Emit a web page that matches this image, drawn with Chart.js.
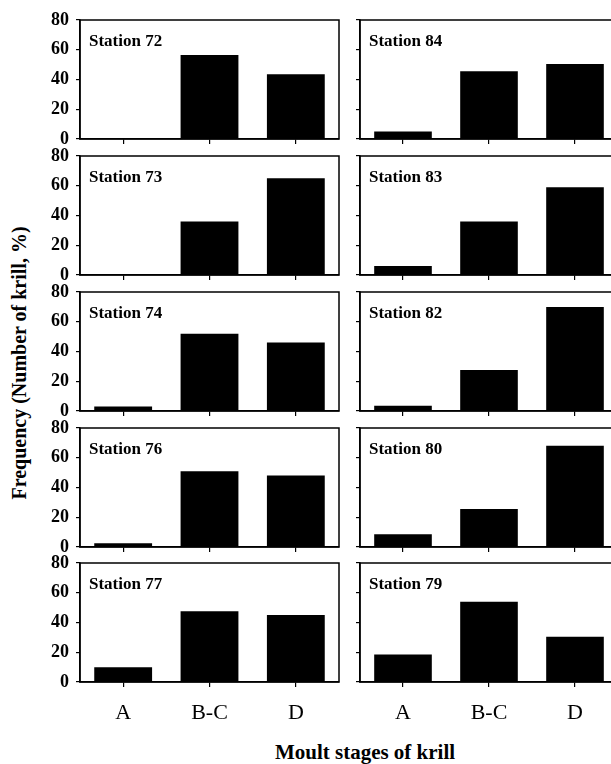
<!DOCTYPE html>
<html>
<head>
<meta charset="utf-8">
<script src="https://cdn.jsdelivr.net/npm/chart.js@4/dist/chart.umd.min.js"></script>
<style>
  html, body { margin: 0; padding: 0; background: #fff; }
  body { width: 611px; height: 764px; position: relative; overflow: hidden; }
  canvas { position: absolute; }
  .title { position: absolute; font-family: "Liberation Serif", serif; font-weight: bold; color: #000; white-space: nowrap; }
</style>
</head>
<body>
<div class="title" id="ytitle" style="font-size:20px; left:19px; top:363px; transform: translate(-50%, -50%) rotate(-90deg);">Frequency (Number of krill, %)</div>
<div class="title" id="xtitle" style="font-size:21px; left:365px; top:752px; transform: translate(-50%, -50%);">Moult stages of krill</div>
<script>
// Moult stage frequencies per station (% of krill)
const stages = ['A', 'B-C', 'D'];
const yTicks = [0, 20, 40, 60, 80];

const leftStations = ['Station 72', 'Station 73', 'Station 74', 'Station 76', 'Station 77'];
const rightStations = ['Station 84', 'Station 83', 'Station 82', 'Station 80', 'Station 79'];

const st72 = [0, 56.5, 43.5];
const st73 = [0, 36, 65];
const st74 = [3, 52, 46];
const st76 = [2.5, 51, 48];
const st77 = [10, 47.5, 45];

const st84 = [5, 45.5, 50.5];
const st83 = [6, 36, 59];
const st82 = [3.5, 27.5, 70];
const st80 = [8.5, 25.5, 68];
const st79 = [18.5, 54, 30.5];

const leftValues = [st72, st73, st74, st76, st77];
const rightValues = [st84, st83, st82, st80, st79];

const panelTops = [20, 156, 292, 428, 563];
const panelHeight = 119;

// draws the frame and station name
const panelPlugin = {
  id: 'panel',
  afterDraw(chart, args, opts) {
    const { ctx, chartArea } = chart;
    ctx.save();
    ctx.strokeStyle = '#000';
    ctx.lineWidth = 1.5;
    ctx.strokeRect(chartArea.left, chartArea.top, chartArea.right - chartArea.left, chartArea.bottom - chartArea.top);
    ctx.fillStyle = '#000';
    ctx.font = 'bold 17px "Liberation Serif", serif';
    ctx.textAlign = 'left';
    ctx.textBaseline = 'alphabetic';
    ctx.fillText(opts.label, chartArea.left + 9, chartArea.top + 26);
    ctx.restore();
  }
};

function makePanel(label, values, row, isLeft) {
  const bottomRow = row === panelTops.length - 1;
  const canvas = document.createElement('canvas');
  const left = isLeft ? 0 : 340;
  const width = isLeft ? 350 : 290;
  const axisW = isLeft ? 80 : 20;
  const padTop = 12;
  const xAxisH = bottomRow ? 56 : 14;
  const height = padTop + panelHeight + xAxisH;
  canvas.style.left = left + 'px';
  canvas.style.top = (panelTops[row] - padTop) + 'px';
  canvas.style.width = width + 'px';
  canvas.style.height = height + 'px';
  canvas.width = width;
  canvas.height = height;
  document.body.appendChild(canvas);

  new Chart(canvas, {
    type: 'bar',
    data: {
      labels: stages,
      datasets: [{
        data: values,
        backgroundColor: '#000',
        borderWidth: 0,
        barPercentage: 0.67,
        categoryPercentage: 1
      }]
    },
    options: {
      responsive: false,
      animation: false,
      events: [],
      layout: { padding: { top: padTop, right: isLeft ? 11 : 12, left: 0, bottom: 0 } },
      plugins: {
        legend: { display: false },
        tooltip: { enabled: false },
        panel: { label: label }
      },
      scales: {
        x: {
          grid: { display: true, drawOnChartArea: false, offset: false, color: '#000', lineWidth: 1.2, tickLength: 5 },
          border: { display: true, color: '#000', width: 1.5 },
          ticks: {
            display: bottomRow,
            color: '#000',
            padding: 13,
            font: { family: '"Liberation Serif", serif', size: 22 }
          },
          afterFit(scale) {
            scale.height = xAxisH;
            scale.paddingLeft = 0;
            scale.paddingRight = 0;
          }
        },
        y: {
          min: 0,
          max: 80,
          afterBuildTicks(scale) { scale.ticks = yTicks.map(v => ({ value: v })); },
          grid: { display: true, drawOnChartArea: false, color: '#000', lineWidth: 1.2, tickLength: 4 },
          border: { display: true, color: '#000', width: 1.5 },
          ticks: {
            display: isLeft,
            color: '#000',
            padding: 7,
            font: { family: '"Liberation Serif", serif', size: 18, weight: 'bold' }
          },
          afterFit(scale) {
            scale.width = axisW;
            scale.paddingTop = 0;
            scale.paddingBottom = 0;
          }
        }
      }
    },
    plugins: [panelPlugin]
  });
}

leftStations.forEach((s, i) => makePanel(s, leftValues[i], i, true));
rightStations.forEach((s, i) => makePanel(s, rightValues[i], i, false));
</script>
</body>
</html>
